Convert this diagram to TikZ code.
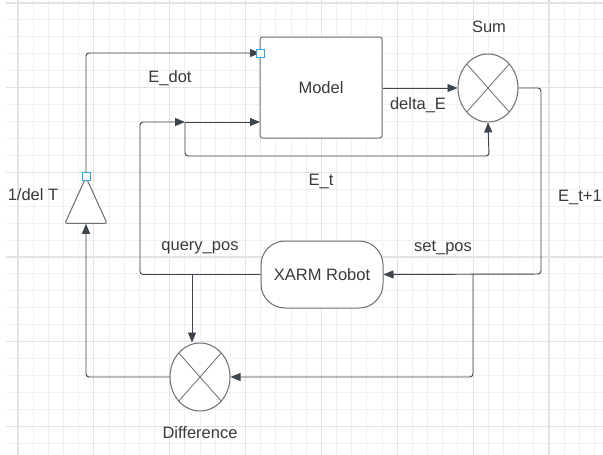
\documentclass[tikz,border=0pt]{standalone}
\usepackage{fontspec}
\setmainfont{Liberation Sans}
\usepackage{tikz}
\usepackage{xcolor}
\usetikzlibrary{shapes.geometric, arrows.meta, positioning, calc}

\definecolor{linegray}{HTML}{3E444D}
\definecolor{boxgray}{HTML}{6A6D72}
\definecolor{textgray}{HTML}{3A3A3A}
\definecolor{handleblue}{HTML}{2AA8DF}
\definecolor{gridminor}{HTML}{F0F0F0}
\definecolor{gridmajor}{HTML}{E3E3E3}

\begin{document}
\begin{tikzpicture}[x=1pt, y=-1pt,
  gridline/.style={draw=gridminor, line width=1pt},
  gridbold/.style={draw=gridmajor, line width=1.2pt},
  line/.style={draw=linegray, line width=0.95pt, rounded corners=3},
  arr/.style={line, -{Triangle[length=10pt, width=8pt]}},
  block/.style={draw=boxgray, line width=1pt, fill=white, rounded corners=2.5,
    minimum width=122pt, minimum height=101pt, inner sep=0pt},
  robot/.style={draw=boxgray, line width=1pt, fill=white, rounded corners=24,
    minimum width=122pt, minimum height=67pt, inner sep=0pt},
  mixer/.style={ellipse, draw=boxgray, line width=1pt, fill=white,
    minimum width=60pt, minimum height=68pt, inner sep=0pt,
    path picture={\draw[boxgray, line width=0.8pt]
      (path picture bounding box.north west) -- (path picture bounding box.south east)
      (path picture bounding box.north east) -- (path picture bounding box.south west);}},
  gain/.style={isosceles triangle, shape border rotate=90, isosceles triangle stretches,
    draw=boxgray, line width=1pt, fill=white, rounded corners=2,
    minimum width=42pt, minimum height=46pt, inner sep=0pt},
  handle/.style={draw=handleblue, line width=1pt, fill=white, minimum size=8pt, inner sep=0pt},
  lbl/.style={text=textgray, font=\fontsize{16.5}{19}\selectfont},
]
\fill[white] (0,0) rectangle (603,455);
\useasboundingbox (0,0) rectangle (603,455);

\foreach \i in {0,...,38}
  \draw[gridline] ({18+15.17*\i},0) -- ({18+15.17*\i},455);
\foreach \k in {0,...,26}
  \draw[gridline] (6,{3+16.93*\k}) -- (603,{3+16.93*\k});
\foreach \i in {0,5,...,35}
  \draw[gridbold] ({18+15.17*\i},0) -- ({18+15.17*\i},455);
\foreach \k in {0,5,...,25}
  \draw[gridbold] (6,{3+16.93*\k}) -- (603,{3+16.93*\k});

\node[block] (model) at (321,87.5) {};
\node[lbl] at (model.center) {Model};
\node[mixer] (sum) at (488,88) {};
\node[lbl] (sumLbl) at (489,27) {Sum};
\node[robot] (robot) at (322,274.5) {};
\node[lbl] at (robot.center) {XARM Robot};
\node[mixer] (diff) at (200,377) {};
\node[lbl] (diffLbl) at (200,433) {Difference};
\node[gain, anchor=apex] (gain) at (86,176) {};
\node[lbl] (gainLbl) at (33,195) {1/del T};

\coordinate (modelIn) at (260,53);
\coordinate (modelIn2) at (260,122);
\coordinate (split) at (185,122);
\coordinate (qpos) at (192,274);
\coordinate (spos) at (473,274);

\draw[arr] (gain.apex) |- (modelIn);
\draw[arr] (robot.west) -| (140,122) -- (split);
\draw[arr] (split) -- (modelIn2);
\draw[arr] (split) |- (489,156) -- (sum.south);
\draw[arr] (model.east |- sum.west) -- (sum.west);
\draw[arr] (sum.east) -| (541,274) -- (robot.east);
\draw[arr] (spos) |- (diff.east);
\draw[arr] (qpos) -- (qpos |- diff.north);
\draw[arr] (diff.west) -| (gain.lower side);

\node[lbl] (eDot) at (170,78) {E\_dot};
\node[lbl] (deltaE) at (418,105) {delta\_E};
\node[lbl] (eT) at (321,181) {E\_t};
\node[lbl] (eNext) at (580,197) {E\_t+1};
\node[lbl] (setPos) at (443,248) {set\_pos};
\node[lbl] (queryPos) at (200,248) {query\_pos};

\node[handle] (hModel) at (modelIn) {};
\node[handle] (hGain) at (gain.apex) {};
\end{tikzpicture}
\end{document}
